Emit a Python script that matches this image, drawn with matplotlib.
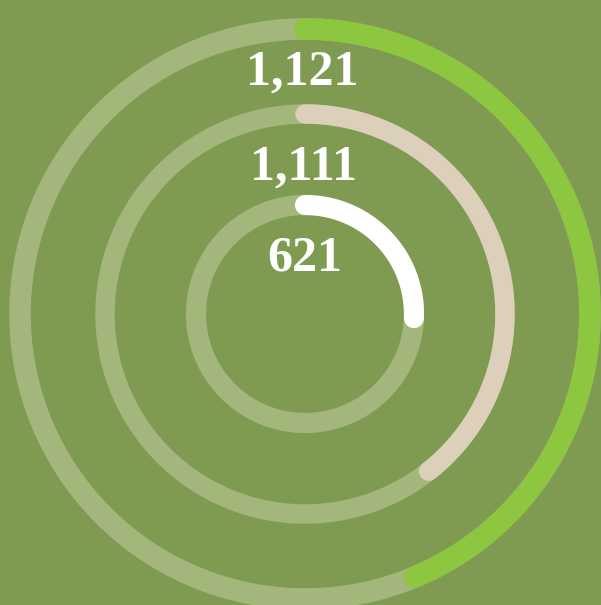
import numpy as np
import matplotlib
matplotlib.use('Agg')
import matplotlib.pyplot as plt

# valores de los anillos (de fuera hacia dentro)
etiquetas = ['1,121', '1,111', '621']
fraccion = [0.437, 0.394, 0.256]      # parte del anillo completada
colores = ['#8dc63f', '#ddd0ba', '#ffffff']

radios = [285, 200, 109]
grosor = [15.5, 14.0, 14.5]
r_texto = [229, 134, 44]

fondo = '#7f9b51'
pista = '#a3b67c'

fig = plt.figure(figsize=(6.01, 6.05), dpi=100, facecolor=fondo)
# eje polar de 600 px centrado en (305, 314) px
ax = fig.add_axes([5/601, (605-614)/605, 600/601, 600/605], projection='polar')
ax.set_theta_zero_location('N')
ax.set_theta_direction(-1)
ax.set_rlim(0, 300)
ax.set_axis_off()

th = np.linspace(0, 2*np.pi, 400)
for i in range(len(radios)):
    ax.plot(th, np.full_like(th, radios[i]), color=pista, lw=grosor[i],
            solid_capstyle='butt', zorder=1)
    t = np.linspace(0, 2*np.pi*fraccion[i], 300)
    ax.plot(t, np.full_like(t, radios[i]), color=colores[i], lw=grosor[i],
            solid_capstyle='round', zorder=2)
    ax.text(-0.01, r_texto[i], etiquetas[i], ha='center', va='baseline',
            fontsize=36, fontweight='bold', color='white',
            family=['Liberation Serif', 'DejaVu Serif'], zorder=3)

fig.savefig('out.png', dpi=100, facecolor=fondo)
